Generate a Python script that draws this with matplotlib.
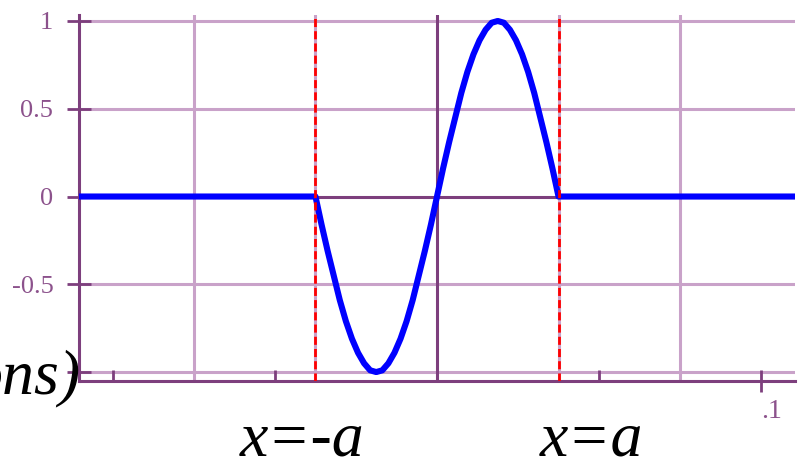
import matplotlib
matplotlib.use('Agg')
import matplotlib.pyplot as plt

# wave (x in units of a)
x_vals = [-2.95, -1.0, -0.95, -0.9, -0.85, -0.8, -0.75, -0.7, -0.65, -0.6, -0.55,
          -0.5, -0.45, -0.4, -0.35, -0.3, -0.25, -0.2, -0.15, -0.1, -0.05,
          0.0, 0.05, 0.1, 0.15, 0.2, 0.25, 0.3, 0.35, 0.4, 0.45,
          0.5, 0.55, 0.6, 0.65, 0.7, 0.75, 0.8, 0.85, 0.9, 0.95, 1.0, 2.95]
y_vals = [0.0, 0.0, -0.16, -0.31, -0.45, -0.59, -0.71, -0.81, -0.89, -0.95, -0.99,
          -1.0, -0.99, -0.95, -0.89, -0.81, -0.71, -0.59, -0.45, -0.31, -0.16,
          0.0, 0.16, 0.31, 0.45, 0.59, 0.71, 0.81, 0.89, 0.95, 0.99,
          1.0, 0.99, 0.95, 0.89, 0.81, 0.71, 0.59, 0.45, 0.31, 0.16, 0.0, 0.0]

edge_x = [-1.0, 1.0]
grid_x = [-2, -1, 1, 2]
grid_y = [-1, -0.5, 0.5, 1]
y_ticks = [-1, -0.5, 0, 0.5, 1]
y_labels = ['', '-0.5', '0', '0.5', '1']
x_minor = [-2.667, -1.333, 0, 1.333]
x_major = [2.667]
x_major_labels = ['.1']

lilac = '#c9a2c9'
dark = '#7d3f7d'
label_col = '#8c528c'

fig = plt.figure(figsize=(8, 4.59), dpi=100)
ax = fig.add_axes([0.09875, 0.1699, 0.895, 0.7974])
ax.set_xlim(-2.946, 2.946)
ax.set_ylim(-1.051, 1.034)

for gx in grid_x:
    ax.axvline(gx, color=lilac, lw=2.2, zorder=1)
for gy in grid_y:
    ax.axhline(gy, color=lilac, lw=2.2, zorder=1)
ax.axvline(0, color=dark, lw=2.2, zorder=1.5)
ax.axhline(0, color=dark, lw=2.2, zorder=1.5)

ax.plot(x_vals, y_vals, color='blue', lw=4.4, solid_capstyle='round',
        solid_joinstyle='round', zorder=3)

for ex in edge_x:
    ax.axvline(ex, color='red', lw=2, linestyle=(0, (2.9, 1.5)), zorder=4)

for side in ['top', 'right']:
    ax.spines[side].set_visible(False)
for side in ['left', 'bottom']:
    ax.spines[side].set_color(dark)
    ax.spines[side].set_linewidth(2.2)

ax.set_yticks(y_ticks)
ax.set_yticklabels(y_labels, family='Liberation Serif', fontsize=19, color=label_col)
ax.tick_params(axis='y', direction='inout', length=17, width=2, color=dark, pad=10)

ax.set_xticks(x_major)
ax.set_xticklabels(x_major_labels, family='Liberation Serif', fontsize=20, color=label_col)
ax.set_xticks(x_minor, minor=True)
ax.tick_params(axis='x', which='major', direction='inout', length=16, width=2,
               color=dark, pad=5)
ax.tick_params(axis='x', which='minor', direction='in', length=8, width=2, color=dark)
for lab in ax.get_xticklabels():
    lab.set_horizontalalignment('left')

fig.text(0.378, 0.0087, 'x=-a', fontsize=46, fontstyle='italic',
         family='Liberation Serif', ha='center', va='baseline')
fig.text(0.739, 0.0087, 'x=a', fontsize=46, fontstyle='italic',
         family='Liberation Serif', ha='center', va='baseline')
fig.text(0.1, 0.1438, 'ons)', fontsize=46, fontstyle='italic',
         family='Liberation Serif', ha='right', va='baseline')

fig.savefig('out.png', dpi=100)
